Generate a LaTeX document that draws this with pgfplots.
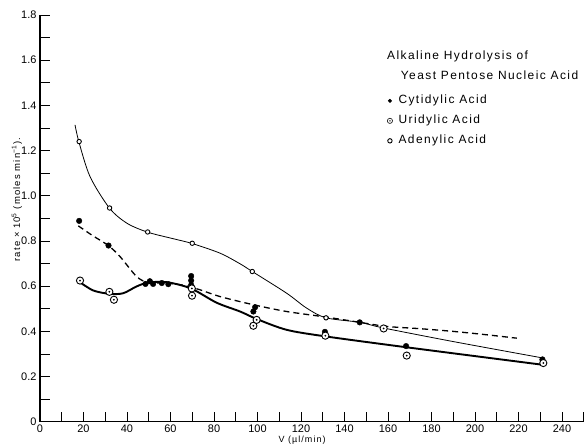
\documentclass[border=0pt]{standalone}
\usepackage{fontspec}
\setmainfont{Liberation Sans}
\newfontfamily\lettering[LetterSpace=12]{Liberation Sans}
\usepackage{pgfplots}
\usepackage{pgfplotstable}
\pgfplotsset{compat=1.18}

% circle with a centre dot (uridylic acid)
\pgfdeclareplotmark{odot}{%
  \pgfpathcircle{\pgfpointorigin}{\pgfplotmarksize}%
  \pgfusepathqfillstroke
  \pgfscope
  \pgfsetfillcolor{black}%
  \pgfpathcircle{\pgfpointorigin}{0.28\pgfplotmarksize}%
  \pgfusepathqfill
  \endpgfscope}

% fitted curves, read off the figure
\pgfplotstableread{
x y
16.1 1.314
17.9 1.238
23.0 1.085
31.9 0.946
39.9 0.879
49.5 0.839
61.3 0.810
69.9 0.789
82.8 0.746
92.0 0.699
97.6 0.665
113.4 0.569
122.6 0.503
131.5 0.460
147.1 0.440
158.0 0.415
190.0 0.355
231.4 0.282
}\adenfit

\pgfplotstableread{
x y
17.6 0.867
24.0 0.825
31.4 0.780
36.8 0.731
44.4 0.643
49.8 0.616
58.0 0.614
66.0 0.604
73.6 0.584
82.8 0.554
98.1 0.518
113.4 0.488
131.8 0.463
147.1 0.440
159.4 0.422
174.7 0.412
190.0 0.400
205.4 0.385
219.2 0.370
}\cytfit

\pgfplotstableread{
x y
18.0 0.620
24.5 0.581
32.2 0.566
38.3 0.569
44.4 0.599
49.8 0.616
58.2 0.618
69.4 0.590
81.2 0.527
92.0 0.488
99.6 0.455
113.4 0.407
131.2 0.378
168.3 0.330
231.4 0.252
}\urifit

% measured points
\pgfplotstableread{
x y
18.0 1.240
32.0 0.946
49.5 0.840
70.0 0.790
97.6 0.665
131.5 0.460
231.0 0.272
}\adenpts

\pgfplotstableread{
x y
18.0 0.889
31.5 0.780
48.5 0.610
50.5 0.622
52.0 0.610
56.0 0.614
59.0 0.609
69.5 0.645
69.5 0.625
69.5 0.605
98.1 0.488
98.9 0.507
131.0 0.398
147.0 0.440
168.3 0.335
231.0 0.276
}\cytpts

\pgfplotstableread{
x y
18.4 0.625
31.9 0.575
34.0 0.540
69.8 0.590
69.9 0.558
98.1 0.425
99.6 0.451
131.2 0.381
158.0 0.413
168.6 0.293
231.4 0.260
}\uripts

\begin{document}
\begin{tikzpicture}
\useasboundingbox (-40bp,-25bp) rectangle (544bp,421.8bp);
\begin{axis}[
  at={(0,0)}, anchor=south west,
  scale only axis, width=543.75bp, height=406.8bp,
  xmin=0, xmax=250, ymin=0, ymax=1.8,
  axis x line*=bottom, axis y line*=left,
  axis line style={line width=1.2bp,-},
  xtick={0,20,...,240}, minor xtick={10,30,...,250},
  ytick={0,0.2,0.4,0.6,0.8,1.0,1.2,1.4,1.6,1.8},
  yticklabels={0,0.2,0.4,0.6,0.8,1.0,1.2,1.4,1.6,1.8},
  minor ytick={0.1,0.3,0.5,0.7,0.9,1.1,1.3,1.5,1.7},
  tick align=inside,
  major tick length=10bp, minor tick length=10bp,
  tick style={line width=0.8bp,black},
  ticklabel style={font=\fontsize{11}{13}\selectfont},
  /pgf/number format/assume math mode=true,
  xlabel={V (µl/min)},
  xlabel style={at={(axis description cs:0.482,-0.044)},anchor=center,
    font=\lettering\fontsize{9}{11}\selectfont},
  ylabel={rate × 10\textsuperscript{5} (moles min\textsuperscript{−1}).},
  ylabel style={at={(axis description cs:-0.0423,0.546)},anchor=center,
    font=\lettering\fontsize{9.5}{11}\selectfont},
  legend style={draw=none,fill=none,at={(axis cs:159.6,1.452)},anchor=north west,
    inner sep=0pt,row sep=6bp,column sep=5bp,
    font=\lettering\fontsize{12}{14}\selectfont,
    nodes={inner sep=1bp,text height=9bp,text depth=3bp},
    cells={anchor=west}},
  legend image code/.code={\draw[#1] plot coordinates {(0bp,0bp)};},
]
% curves
\addplot[black,line width=0.8bp,smooth,forget plot] table {\adenfit};
\addplot[black,line width=1.3bp,dash pattern=on 6bp off 4bp,smooth,forget plot] table {\cytfit};
\addplot[black,line width=1.9bp,smooth,forget plot] table {\urifit};
% points
\addplot[only marks,mark=*,mark size=2.2bp,mark options={fill=white,draw=black,line width=0.9bp},forget plot] table {\adenpts};
\addplot[only marks,mark=*,mark size=2.8bp,mark options={fill=black,draw=black},forget plot] table {\cytpts};
\addplot[only marks,mark=odot,mark size=3.6bp,mark options={fill=white,draw=black,line width=0.9bp},forget plot] table {\uripts};
% legend
\addlegendimage{only marks,mark=*,mark size=1.8bp,mark options={fill=black,draw=black}}
\addlegendentry{Cytidylic Acid}
\addlegendimage{only marks,mark=odot,mark size=2.6bp,mark options={fill=white,draw=black,line width=0.6bp}}
\addlegendentry{Uridylic Acid}
\addlegendimage{only marks,mark=*,mark size=2.2bp,mark options={fill=white,draw=black,line width=0.9bp}}
\addlegendentry{Adenylic Acid}
\node[font=\lettering\fontsize{12}{14}\selectfont] at (axis cs:192,1.615) {Alkaline Hydrolysis of};
\node[font=\lettering\fontsize{12}{14}\selectfont] at (axis cs:206.7,1.535) {Yeast Pentose Nucleic Acid};
\end{axis}
\end{tikzpicture}
\end{document}
